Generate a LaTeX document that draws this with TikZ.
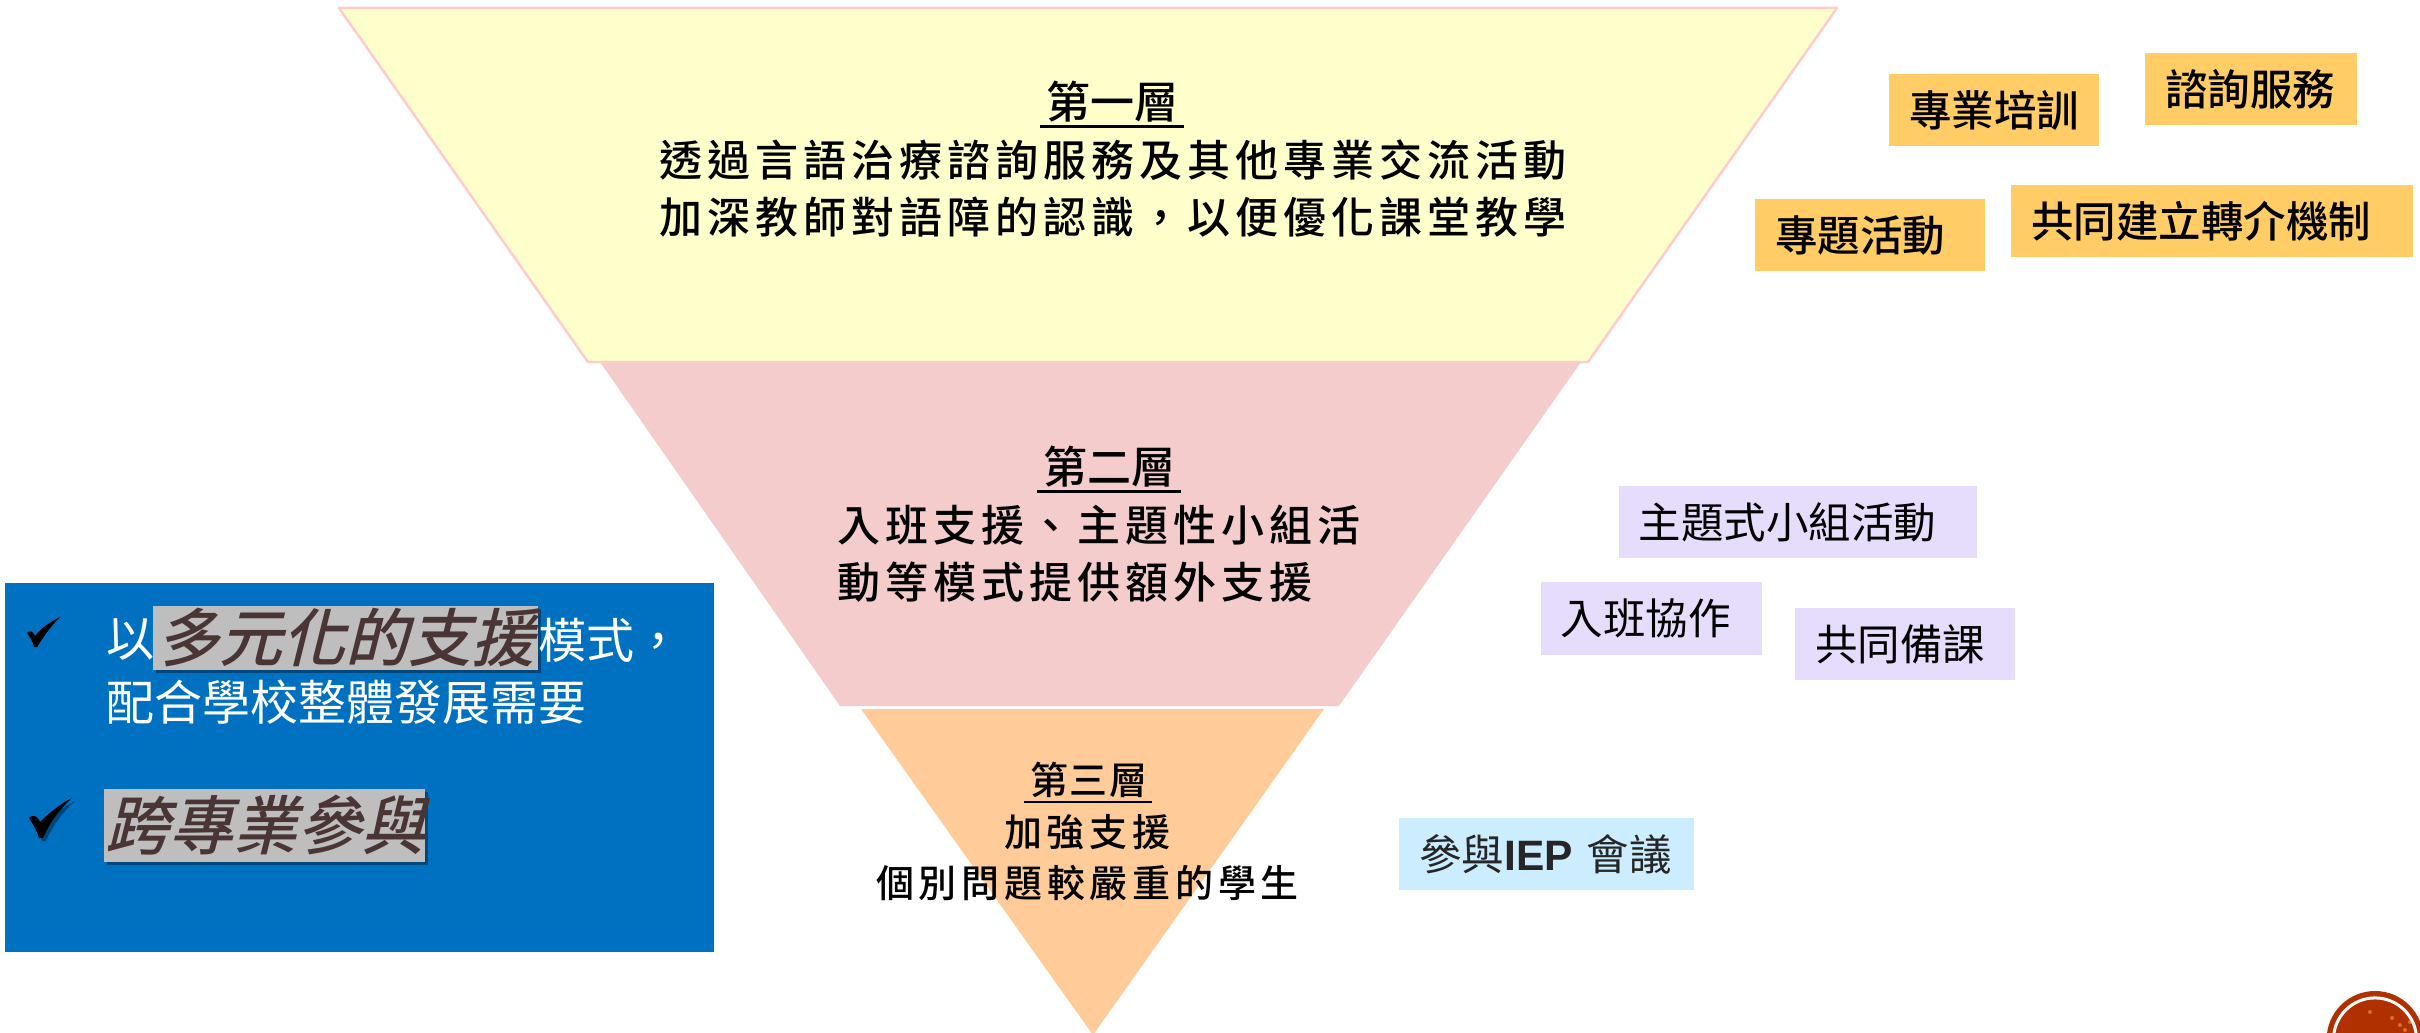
\documentclass[tikz,border=0pt]{standalone}
\usepackage{fontspec}
\setmainfont{Noto Sans CJK TC}
\newfontfamily\cjkmed{Noto Sans CJK TC Medium}
\newfontfamily\cjkslant[FakeSlant=0.25]{Noto Sans CJK TC Medium}
\definecolor{layerA}{HTML}{FFFFCC}
\definecolor{layerB}{HTML}{F4CCCC}
\definecolor{layerC}{HTML}{FFCC99}
\definecolor{edgeA}{HTML}{FFCCCC}
\definecolor{tagA}{HTML}{FFCC66}
\definecolor{tagB}{HTML}{E6DCFB}
\definecolor{tagC}{HTML}{CCECFF}
\definecolor{panel}{HTML}{0070C0}
\definecolor{hilite}{HTML}{BEBEBE}
\definecolor{hitext}{HTML}{4A3535}
\definecolor{seal}{HTML}{B03000}
\tikzset{
  x=1pt,y=-1pt,
  tag/.style={inner ysep=0pt,inner xsep=20pt,anchor=west,align=left},
  tagorange/.style={tag,fill=tagA,text=black,font=\cjkmed\fontsize{42.5}{42.5}\selectfont},
  tagpurple/.style={tag,fill=tagB,text=black,font=\fontsize{42.5}{42.5}\selectfont},
  tagblue/.style={tag,fill=tagC,text=black!85,font=\fontsize{42.5}{42.5}\selectfont},
  txt/.style={inner sep=0pt,anchor=center,text=black},
}
\newcommand{\lay}[3]{{\cjkmed\fontsize{#1}{#1}\selectfont\addfontfeature{LetterSpace=#2}#3}}
\begin{document}
\begin{tikzpicture}
\useasboundingbox (0,0) rectangle (2420,1033);
\clip (0,0) rectangle (2420,1033);
% pyramid
\fill[layerC] (861,709) -- (1324,709) -- (1093,1035) -- cycle;
\fill[layerB] (600,362) -- (1581,362) -- (1339,706) -- (840,706) -- cycle;
\draw[edgeA,line width=2.5pt,fill=layerA,line join=round] (339,8) -- (1837,8) -- (1588,362) -- (588,362) -- cycle;
% layer 1
\node[txt] (l1h) at (1112,102) {\lay{44}{0}{第一層}};
\draw[line width=3pt] (1040,126) -- (1184,126);
\node[txt,anchor=west] (l1a) at (659,160) {\lay{43}{11.7}{透過言語治療諮詢服務及其他專業交流活動}};
\node[txt,anchor=west] (l1b) at (659,217) {\lay{43}{11.7}{加深教師對語障的認識，以便優化課堂教學}};
% layer 2
\node[txt] (l2h) at (1109,467) {\lay{44}{0}{第二層}};
\draw[line width=3pt] (1037,491) -- (1181,491);
\node[txt,anchor=west] (l2a) at (837,525) {\lay{43}{11.7}{入班支援、主題性小組活}};
\node[txt,anchor=west] (l2b) at (837,582) {\lay{43}{11.7}{動等模式提供額外支援}};
% layer 3
\node[txt] (l3h) at (1089,780) {\lay{38}{5}{第三層}};
\draw[line width=2.5pt] (1024,802) -- (1152,802);
\node[txt,anchor=west] (l3a) at (1004,832) {\lay{38}{12.5}{加強支援}};
\node[txt,anchor=west] (l3b) at (876,883) {\lay{38}{12.5}{個別問題較嚴重的學生}};
% tags
\node[tagorange,text width=170pt,minimum height=72pt] (t1) at (1889,110) {專業培訓};
\node[tagorange,text width=172pt,minimum height=72pt] (t2) at (2145,89) {諮詢服務};
\node[tagorange,text width=190pt,minimum height=72pt] (t3) at (1755,235) {專題活動};
\node[tagorange,text width=362pt,minimum height=72pt] (t4) at (2011,221) {共同建立轉介機制};
\node[tagpurple,text width=318pt,minimum height=72pt] (t5) at (1618.5,522) {主題式小組活動};
\node[tagpurple,text width=181pt,minimum height=73pt] (t6) at (1540.5,618.5) {入班協作};
\node[tagpurple,text width=180pt,minimum height=72pt] (t7) at (1795,644) {共同備課};
\node[tagblue,text width=255pt,minimum height=72pt] (t8) at (1399,854) {\mbox{參與{\fontspec{Liberation Sans Bold}IEP} 會議}};
% panel
\fill[panel] (5,583) rectangle (714,952);
\fill[black,opacity=.35] (156,609) rectangle (541,673);
\fill[hilite] (153,606) rectangle (538,670);
\fill[black,opacity=.35] (107,792) rectangle (428,865);
\fill[hilite] (104,789) rectangle (425,862);
\node[txt,text=white,anchor=west] (p1) at (106,640) {\fontsize{48}{48}\selectfont 以};
\node[txt,text=hitext,anchor=west] (p2) at (156,638) {\cjkslant\fontsize{63}{63}\selectfont 多元化的支援};
\node[txt,text=white,anchor=west] (p3) at (538,640) {\fontsize{48}{48}\selectfont 模式，};
\node[txt,text=white,anchor=west] (p4) at (106,702) {\fontsize{48}{48}\selectfont 配合學校整體發展需要};
\node[txt,text=hitext,anchor=west] (p5) at (105,825) {\cjkslant\fontsize{64}{64}\selectfont 跨專業參與};
% check marks
\fill[black] (27,633) .. controls (30,630) and (33,631) .. (35,636) .. controls (41,628) and (50,622) .. (60,617) .. controls (51,626) and (44,636) .. (37,647) -- (34,647) .. controls (33,642) and (30,637) .. (27,633) -- cycle;
\fill[black,opacity=.35] (32,821) .. controls (36,817) and (41,819) .. (43,825) .. controls (52,816) and (63,807) .. (75,801) .. controls (63,812) and (53,825) .. (46,841) -- (42,841) .. controls (40,834) and (36,827) .. (32,821) -- cycle;
\fill[black] (29,818) .. controls (33,814) and (38,816) .. (40,822) .. controls (49,813) and (60,804) .. (72,798) .. controls (60,809) and (50,822) .. (43,838) -- (39,838) .. controls (37,831) and (33,824) .. (29,818) -- cycle;
% seal
\fill[seal] (2375,1039.4) circle (48.4);
\draw[white,line width=3pt] (2375,1039.4) circle (41.5);
\foreach \p/\q in {2400/1025,2405/1030,2392/1018,2410/1022,2370/1012}{\fill[orange!60!white,opacity=.5] (\p,\q) circle (2);}
\end{tikzpicture}
\end{document}
